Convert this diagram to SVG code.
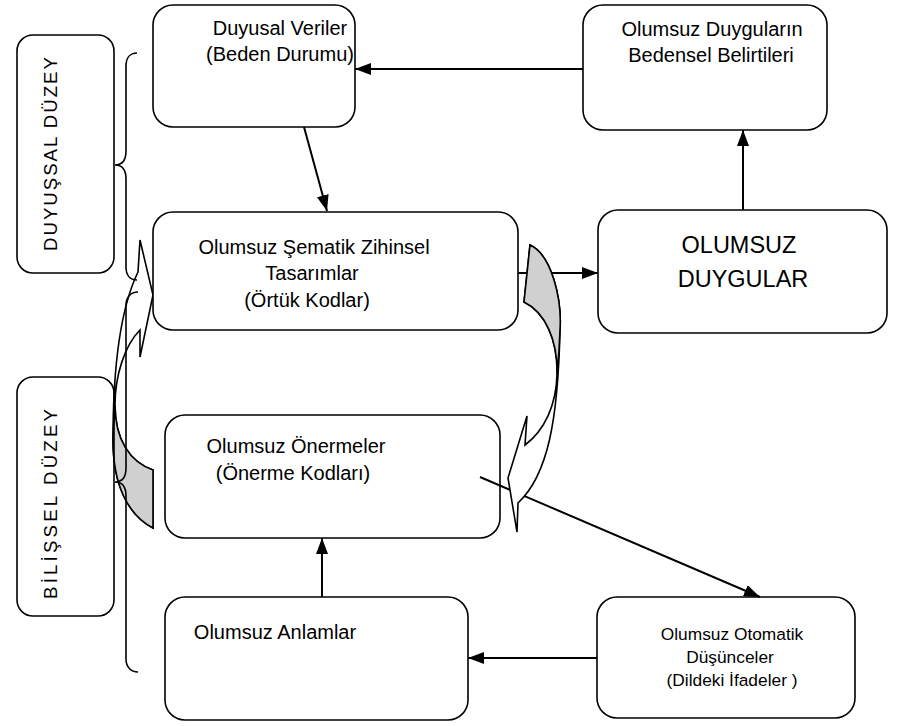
<svg xmlns="http://www.w3.org/2000/svg" width="902" height="726" viewBox="0 0 902 726">
  <defs>
    <style>
      .box { fill: #ffffff; stroke: #000000; stroke-width: 1.6; }
      .side { fill: none; stroke: #000000; stroke-width: 1.6; }
      .brace { fill: none; stroke: #000000; stroke-width: 1.6; }
      .conn { fill: none; stroke: #000000; stroke-width: 2; marker-end: url(#head); }
      .band { fill: #ffffff; stroke: #000000; stroke-width: 1.6; stroke-linejoin: miter; }
      .back { fill: #d0d0d0; stroke: #000000; stroke-width: 1.6; }
      .t { font-family: "Liberation Sans", Arial, sans-serif; font-size: 20px; fill: #000000; text-anchor: middle; }
      .tb { font-family: "Liberation Sans", Arial, sans-serif; font-size: 23.5px; fill: #000000; text-anchor: middle; }
      .ts { font-family: "Liberation Sans", Arial, sans-serif; font-size: 17.33px; fill: #000000; text-anchor: middle; }
      .tl { font-family: "Liberation Sans", Arial, sans-serif; font-size: 18.67px; fill: #000000; text-anchor: middle; }
    </style>
    <marker id="head" markerUnits="userSpaceOnUse" viewBox="0 0 16 12" markerWidth="16" markerHeight="12" refX="16" refY="6" orient="auto">
      <path d="M0,0 L16,6 L0,12 Z" fill="#000000"/>
    </marker>
  </defs>

  <!-- curved feedback arrow on the left (cognitive level back up to schemas) -->
  <g id="loop-left">
    <path class="band" d="M153,528 C128,515 113,485 113,440 C113,360 122,305 138,272 L140,240 L153,295 L140,357 L140,330 C125,345 115,375 115,405 C115,440 130,462 153,470 Z"/>
    <path class="back" d="M153,470 C130,462 115,440 115,405 C114,420 113,430 113,440 C113,485 128,515 153,528 Z"/>
  </g>

  <!-- level labels -->
  <g id="level-sensory">
    <rect class="side" x="17" y="35" width="97" height="238" rx="16"/>
    <text class="tl" transform="translate(57,154) rotate(-90)" textLength="194" lengthAdjust="spacing">DUYUŞSAL  DÜZEY</text>
  </g>
  <g id="level-cognitive">
    <rect class="side" x="17" y="377" width="97" height="239" rx="16"/>
    <text class="tl" transform="translate(57,504) rotate(-90)" textLength="190" lengthAdjust="spacing">BİLİŞSEL DÜZEY</text>
  </g>

  <!-- braces grouping each level -->
  <g id="braces">
    <path class="brace" d="M137,53 C130,53 126,58 126,66 L126,151 C126,160 122,165 115,165 C122,165 126,170 126,179 L126,267 C126,275 130,280 137,280"/>
    <path class="brace" d="M138,292 C131,292 126,297 126,305 L126,468 C126,477 122,482 115,482 C122,482 126,487 126,496 L126,659 C126,667 131,672 138,672"/>
  </g>

  <g id="duyusal-veriler">
    <rect class="box" x="153" y="5" width="202" height="122" rx="20"/>
    <text class="t" x="280" y="35">Duyusal Veriler</text>
    <text class="t" x="280" y="61">(Beden Durumu)</text>
  </g>

  <g id="bedensel-belirtiler">
    <rect class="box" x="583" y="5" width="244" height="125" rx="20"/>
    <text class="t" x="712" y="36">Olumsuz Duyguların</text>
    <text class="t" x="711" y="62">Bedensel Belirtileri</text>
  </g>

  <g id="sematik-tasarimlar">
    <rect class="box" x="153" y="212" width="365" height="118" rx="20"/>
    <text class="t" x="314" y="254">Olumsuz Şematik Zihinsel</text>
    <text class="t" x="312" y="280">Tasarımlar</text>
    <text class="t" x="307" y="307">(Örtük Kodlar)</text>
  </g>

  <g id="olumsuz-duygular">
    <rect class="box" x="598" y="210" width="289" height="123" rx="20"/>
    <text class="tb" x="739" y="253">OLUMSUZ</text>
    <text class="tb" x="743" y="287">DUYGULAR</text>
  </g>

  <g id="olumsuz-onermeler">
    <rect class="box" x="165" y="415" width="335" height="123" rx="20"/>
    <text class="t" x="296" y="453">Olumsuz Önermeler</text>
    <text class="t" x="293" y="480">(Önerme Kodları)</text>
  </g>

  <g id="olumsuz-anlamlar">
    <rect class="box" x="165" y="597" width="303" height="123" rx="20"/>
    <text class="t" x="275" y="639">Olumsuz Anlamlar</text>
  </g>

  <g id="otomatik-dusunceler">
    <rect class="box" x="597" y="597" width="258" height="121" rx="20"/>
    <text class="ts" x="732" y="640">Olumsuz Otomatik</text>
    <text class="ts" x="730" y="663">Düşünceler</text>
    <text class="ts" x="732" y="686">(Dildeki İfadeler )</text>
  </g>

  <!-- connectors -->
  <g id="connectors">
    <line class="conn" x1="583" y1="69" x2="355" y2="69"/>
    <line class="conn" x1="304" y1="127" x2="327" y2="211"/>
    <line class="conn" x1="518" y1="273" x2="598" y2="273"/>
    <line class="conn" x1="743" y1="210" x2="743" y2="130"/>
    <line class="conn" x1="480" y1="477" x2="760" y2="597"/>
    <line class="conn" x1="597" y1="658" x2="468" y2="658"/>
    <line class="conn" x1="322" y1="597" x2="322" y2="538"/>
  </g>

  <!-- curved arrow on the right (schemas down to propositions) -->
  <g id="loop-right">
    <path class="band" d="M530,245 C552,255 562,300 560,330 C558,420 548,475 518,503 L517,532 L508,478 L527,416 L525,445 C545,430 556,405 557,375 C558,340 545,312 524,302 Z"/>
    <path class="back" d="M530,245 C552,255 562,300 560,330 C559.5,345 558.5,360 557,375 C558,340 545,312 524,302 Z"/>
  </g>
</svg>
